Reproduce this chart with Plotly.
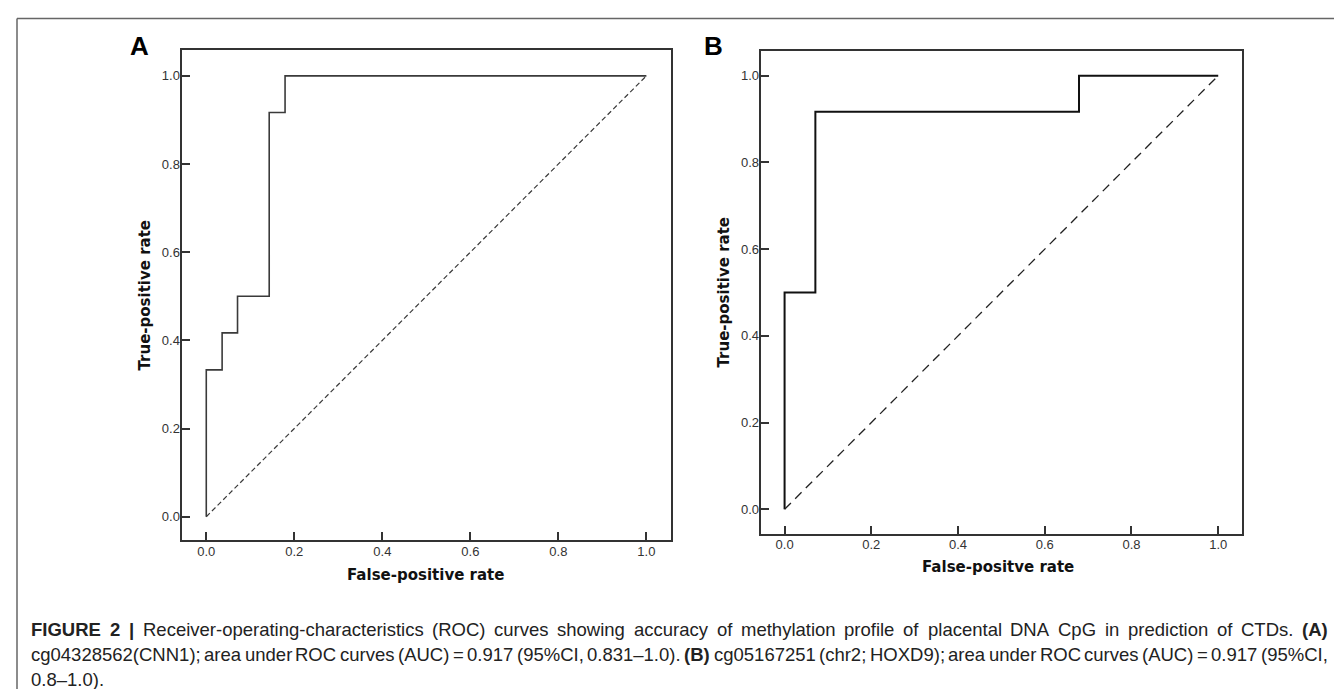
import plotly.graph_objects as go

W, H = 1342, 689

# ROC data
fpr_a = [0.0, 0.0, 0.036, 0.071, 0.143, 0.179, 1.0]
tpr_a = [0.0, 0.333, 0.417, 0.5, 0.917, 1.0, 1.0]
fpr_b = [0.0, 0.0, 0.071, 0.679, 1.0]
tpr_b = [0.0, 0.5, 0.917, 1.0, 1.0]
ref_line = [0.0, 1.0]
tick_vals = [0.0, 0.2, 0.4, 0.6, 0.8, 1.0]
tick_text = ["0.0", "0.2", "0.4", "0.6", "0.8", "1.0"]
panel_labels = ["A", "B"]
x_titles = ["False-positive rate", "False-positve rate"]
y_title = "True-positive rate"
caption_lines = [
    "**FIGURE** **2** **|** Receiver-operating-characteristics (ROC) curves showing accuracy of methylation profile of placental DNA CpG in prediction of CTDs. **(A)**",
    "cg04328562(CNN1); area under ROC curves (AUC) = 0.917 (95%CI, 0.831–1.0). **(B)** cg05167251 (chr2; HOXD9); area under ROC curves (AUC) = 0.917 (95%CI,",
    "0.8–1.0).",
]

# Arial / Liberation Sans advance widths (per 1000 em) used for justifying the caption
REG = {' ': 278, '(': 333, ')': 333, '-': 333, '.': 278, ',': 278, '|': 260, ';': 278, '=': 584,
       '%': 889, '–': 556, 'A': 667, 'B': 667, 'C': 722, 'D': 722, 'E': 667, 'F': 611, 'G': 778,
       'H': 722, 'I': 278, 'N': 722, 'O': 778, 'R': 722, 'S': 667, 'T': 611, 'U': 722, 'X': 667,
       'a': 556, 'b': 556, 'c': 500, 'd': 556, 'e': 556, 'f': 278, 'g': 556, 'h': 556, 'i': 222,
       'k': 500, 'l': 222, 'm': 833, 'n': 556, 'o': 556, 'p': 556, 'q': 556, 'r': 333, 's': 500,
       't': 278, 'u': 556, 'v': 500, 'w': 722, 'x': 500, 'y': 500, 'z': 500}
for d in "0123456789":
    REG[d] = 556
BOLD = {'F': 611, 'I': 278, 'G': 778, 'U': 722, 'R': 722, 'E': 667, '2': 556, '|': 280,
        '(': 333, ')': 333, 'A': 722, 'B': 722}


def px(x):
    return x / W


def py(y):
    return 1 - y / H


fig = go.Figure()

fig.add_trace(go.Scatter(x=fpr_a, y=tpr_a, mode="lines", line=dict(shape="hv", color="#3a3a3a", width=1.6),
                         xaxis="x", yaxis="y", showlegend=False, hoverinfo="skip"))
fig.add_trace(go.Scatter(x=ref_line, y=ref_line, mode="lines", line=dict(color="#3a3a3a", width=1.2, dash="5px,3px"),
                         xaxis="x", yaxis="y", showlegend=False, hoverinfo="skip"))
fig.add_trace(go.Scatter(x=fpr_b, y=tpr_b, mode="lines", line=dict(shape="hv", color="#111111", width=2),
                         xaxis="x2", yaxis="y2", showlegend=False, hoverinfo="skip"))
fig.add_trace(go.Scatter(x=ref_line, y=ref_line, mode="lines", line=dict(color="#222222", width=1.3, dash="9px,6px"),
                         xaxis="x2", yaxis="y2", showlegend=False, hoverinfo="skip"))

axis_common = dict(
    showgrid=False, zeroline=False, showline=True, mirror=True, linecolor="#333333", linewidth=2,
    ticks="inside", ticklen=8, tickwidth=1.5, tickcolor="#333333",
    tickvals=tick_vals, ticktext=tick_text,
    tickfont=dict(family="Liberation Sans, Arial, sans-serif", size=13, color="#333333"),
    fixedrange=True,
)

fig.update_layout(
    width=W, height=H,
    margin=dict(l=0, r=0, t=0, b=0),
    paper_bgcolor="white", plot_bgcolor="white",
    xaxis=dict(axis_common, domain=[px(173.5), px(662.6)], range=[-0.0563, 1.055], anchor="y", ticklabelstandoff=-2),
    yaxis=dict(axis_common, domain=[py(532.3), py(42.3)], range=[-0.0535, 1.058], anchor="x", ticklabelstandoff=-3),
    xaxis2=dict(axis_common, domain=[px(752.6), px(1234.2)], range=[-0.0553, 1.0553], anchor="y2", ticklabelstandoff=-2),
    yaxis2=dict(axis_common, domain=[py(525.7), py(43.3)], range=[-0.0563, 1.0563], anchor="x2", ticklabelstandoff=-3),
)

ann = []
title_font = dict(family="DejaVu Sans, Verdana, sans-serif", size=15, color="#111111")
# panel letters
for lab, cx in zip(panel_labels, [131, 705.5]):
    ann.append(dict(text="<b>%s</b>" % lab, x=px(cx), y=py(37.5), xref="paper", yref="paper",
                    xanchor="center", yanchor="middle", showarrow=False,
                    font=dict(family="Liberation Sans, Arial, sans-serif", size=26, color="#000000")))
# axis titles
for t, cx, cy in zip(x_titles, [417, 990], [567, 559]):
    ann.append(dict(text="<b>%s</b>" % t, x=px(cx), y=py(cy), xref="paper", yref="paper",
                    xanchor="center", yanchor="middle", showarrow=False, font=title_font))
for cx, cy in [(136.5, 287), (715.5, 284)]:
    ann.append(dict(text="<b>%s</b>" % y_title, x=px(cx), y=py(cy), xref="paper", yref="paper",
                    xanchor="center", yanchor="middle", showarrow=False, textangle=-90, font=title_font))

# caption: justified lines (last line left aligned)
cap_size = 18.5
cap_left, cap_right = 23, 1320
cap_font = dict(family="Liberation Sans, Arial, sans-serif", size=cap_size, color="#222222")


def word_width(w, bold):
    table = BOLD if bold else REG
    return sum(table.get(ch, 556) for ch in w) * cap_size / 1000.0


for li, (line, cy) in enumerate(zip(caption_lines, [621, 646, 671])):
    words = []
    for tok in line.split(" "):
        bold = tok.startswith("**") and tok.endswith("**")
        words.append((tok.strip("*"), bold))
    widths = [word_width(w, b) for w, b in words]
    if li < len(caption_lines) - 1 and len(words) > 1:
        gap = (cap_right - cap_left - sum(widths)) / (len(words) - 1)
    else:
        gap = REG[' '] * cap_size / 1000.0
    xpos = cap_left
    for (w, b), wd in zip(words, widths):
        ann.append(dict(text=("<b>%s</b>" % w) if b else w, x=px(xpos), y=py(cy), xref="paper", yref="paper",
                        xanchor="left", yanchor="middle", showarrow=False, font=cap_font,
                        borderpad=0, borderwidth=0))
        xpos += wd + gap

fig.update_layout(annotations=ann)

# outer frame lines of the figure box
fig.update_layout(shapes=[
    dict(type="line", xref="paper", yref="paper", x0=px(9), x1=1, y0=py(10.5), y1=py(10.5),
         line=dict(color="#666666", width=1.5)),
    dict(type="line", xref="paper", yref="paper", x0=px(9), x1=px(9), y0=py(10.5), y1=0,
         line=dict(color="#666666", width=1.5)),
])

fig.write_html("out.html", config={"displayModeBar": False})
